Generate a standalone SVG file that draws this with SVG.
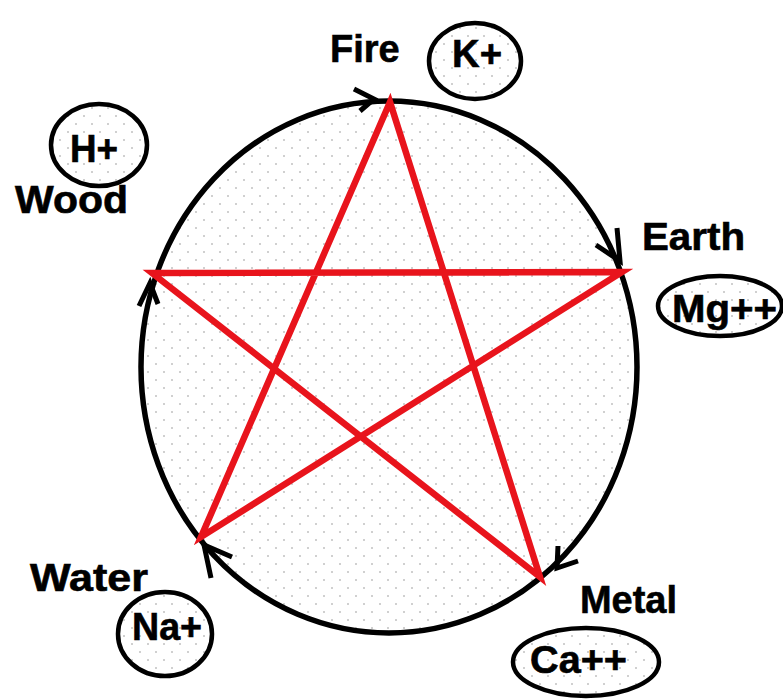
<svg xmlns="http://www.w3.org/2000/svg" width="783" height="699" viewBox="0 0 783 699">
<defs>
<pattern id="dots" x="0" y="0" width="16" height="16" patternUnits="userSpaceOnUse">
<rect x="3" y="3" width="2" height="2" fill="#d0d0d0"/>
<rect x="11" y="11" width="2" height="2" fill="#d0d0d0"/>
</pattern>
</defs>
<style>
.lbl{font-family:"Liberation Sans",Arial,sans-serif;font-weight:bold;font-size:38px;fill:#000;stroke:#000;stroke-width:0.6}
.ion{fill:url(#dots);stroke:#000;stroke-width:4.5}
.ring{fill:url(#dots);stroke:#000;stroke-width:5.5}
.star{fill:none;stroke:#e8141c;stroke-width:6.5;stroke-linejoin:miter;stroke-linecap:round}
.arr{fill:none;stroke:#000;stroke-width:5;stroke-linecap:butt;stroke-linejoin:miter}
</style>
<rect width="783" height="699" fill="#fff"/>
<g id="connectors">
<ellipse class="ring" cx="389" cy="367" rx="248" ry="266"/>
<polyline class="arr" points="354,89 374,99 360,111"/>
<polyline class="arr" points="617,228 620,261 596,245"/>
<polyline class="arr" points="558,546 557,568 578,561"/>
<polyline class="arr" points="232,557 204,545 211,578"/>
<polyline class="arr" points="139,306 150,283 158,304"/>
<polygon class="star" points="390,102 540,577 152,273 622,272 201,537"/>
</g>
<g id="fire">
<text class="lbl" x="330" y="62">Fire</text>
<ellipse class="ion" cx="475" cy="61" rx="46" ry="38"/>
<text class="lbl" x="452" y="67" textLength="50" lengthAdjust="spacingAndGlyphs">K+</text>
</g>
<g id="wood">
<ellipse class="ion" cx="99" cy="145" rx="48" ry="41"/>
<text class="lbl" x="70" y="162" textLength="48" lengthAdjust="spacingAndGlyphs">H+</text>
<text class="lbl" x="15" y="213" textLength="113" lengthAdjust="spacingAndGlyphs">Wood</text>
</g>
<g id="earth">
<text class="lbl" x="642" y="250" textLength="103" lengthAdjust="spacingAndGlyphs">Earth</text>
<ellipse class="ion" cx="720" cy="306" rx="62" ry="30"/>
<text class="lbl" x="672" y="322" textLength="105" lengthAdjust="spacingAndGlyphs">Mg++</text>
</g>
<g id="metal">
<text class="lbl" x="580" y="613" textLength="97" lengthAdjust="spacingAndGlyphs">Metal</text>
<ellipse class="ion" cx="586" cy="662" rx="73" ry="34"/>
<text class="lbl" x="530" y="673" textLength="97" lengthAdjust="spacingAndGlyphs">Ca++</text>
</g>
<g id="water">
<text class="lbl" x="30" y="591" textLength="118" lengthAdjust="spacingAndGlyphs">Water</text>
<ellipse class="ion" cx="165" cy="634" rx="47" ry="42"/>
<text class="lbl" x="132" y="640" textLength="70" lengthAdjust="spacingAndGlyphs">Na+</text>
</g>
</svg>
